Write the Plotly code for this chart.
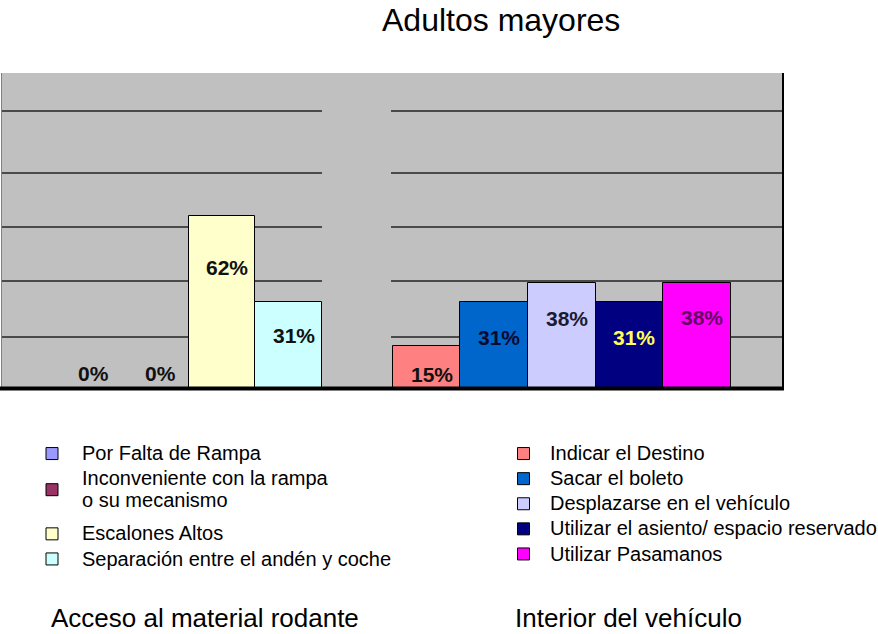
import plotly.graph_objects as go

W, H = 878, 634

title_text = "Adultos mayores"
group_titles = ["Acceso al material rodante", "Interior del vehículo"]

acc_cats = ["Por Falta de Rampa",
            "Inconveniente con la rampa<br>o su mecanismo",
            "Escalones Altos",
            "Separación entre el andén y coche"]
acc_vals = [0, 0, 62, 31]
acc_colors = ["#9999FF", "#993366", "#FFFFCC", "#CCFFFF"]
acc_label_colors = ["#111111", "#111111", "#111111", "#111111"]

int_cats = ["Indicar el Destino",
            "Sacar el boleto",
            "Desplazarse en el vehículo",
            "Utilizar el asiento/ espacio reservado",
            "Utilizar Pasamanos"]
int_vals = [15, 31, 38, 31, 38]
int_colors = ["#FF8080", "#0066CC", "#CCCCFF", "#000080", "#FF00FF"]
int_label_colors = ["#111111", "#0A0A30", "#1A1A33", "#FFFF55", "#660066"]

# style: vertical offset (px) of each value label from the bar top
acc_label_dy = [15, 15, -51, -33]
int_label_dy = [-28, -35, -36, -35, -35]

grid_levels = [18.5, 38.5, 58, 77.6, 100]

# layout geometry (px)
PLOT_TOP, PLOT_BOT = 73, 388
X1L, X1R = 1, 322
X2L, X2R = 391, 783
ydom = [(H - PLOT_BOT) / H, (H - PLOT_TOP) / H]

LABEL_FONT = dict(family="Liberation Sans, Arial, sans-serif", size=21)
TEXT_FONT = "Liberation Sans, Arial, sans-serif"


def legname(s):
    return "<br>".join(f"<span style='font-size:20px'>{p}</span>" for p in s.split("<br>"))


fig = go.Figure()

for i, (c, v, col) in enumerate(zip(acc_cats, acc_vals, acc_colors)):
    fig.add_trace(go.Bar(
        x=[c], y=[v], name=legname(c), width=1,
        marker=dict(color=col, line=dict(color="#000000", width=1)),
        xaxis="x", yaxis="y", legend="legend",
        legendgroup="a1" if i < 2 else "a2", hoverinfo="skip"))

for c, v, col in zip(int_cats, int_vals, int_colors):
    fig.add_trace(go.Bar(
        x=[c], y=[v], name=legname(c), width=1,
        marker=dict(color=col, line=dict(color="#000000", width=1)),
        xaxis="x2", yaxis="y2", legend="legend2", hoverinfo="skip"))

annotations = []
for c, v, lc, dy in zip(acc_cats, acc_vals, acc_label_colors, acc_label_dy):
    annotations.append(dict(x=c, y=v, xref="x", yref="y", text=f"<b>{v}%</b>",
                            showarrow=False, yshift=dy, xshift=5,
                            font=dict(color=lc, **LABEL_FONT)))
for c, v, lc, dy in zip(int_cats, int_vals, int_label_colors, int_label_dy):
    annotations.append(dict(x=c, y=v, xref="x2", yref="y2", text=f"<b>{v}%</b>",
                            showarrow=False, yshift=dy, xshift=5,
                            font=dict(color=lc, **LABEL_FONT)))

annotations.append(dict(x=501 / W, y=1 - 20 / H, xref="paper", yref="paper",
                        text=title_text, showarrow=False, xanchor="center", yanchor="middle",
                        font=dict(family=TEXT_FONT, size=32, color="#000000")))
annotations.append(dict(x=205 / W, y=1 - 618 / H, xref="paper", yref="paper",
                        text=group_titles[0], showarrow=False, xanchor="center", yanchor="middle",
                        font=dict(family=TEXT_FONT, size=26, color="#000000")))
annotations.append(dict(x=628 / W, y=1 - 618 / H, xref="paper", yref="paper",
                        text=group_titles[1], showarrow=False, xanchor="center", yanchor="middle",
                        font=dict(family=TEXT_FONT, size=26, color="#000000")))

shapes = [
    dict(type="rect", xref="paper", yref="paper", x0=X1L / W, x1=X2R / W,
         y0=ydom[0], y1=ydom[1], fillcolor="#C0C0C0", line=dict(width=0), layer="below"),
    dict(type="line", xref="paper", yref="paper", x0=1.5 / W, x1=1.5 / W,
         y0=ydom[0], y1=ydom[1], line=dict(color="#7F7F7F", width=1)),
    dict(type="line", xref="paper", yref="paper", x0=X2R / W, x1=X2R / W,
         y0=ydom[0], y1=ydom[1], line=dict(color="#000000", width=2)),
    dict(type="line", xref="paper", yref="paper", x0=0, x1=(X2R + 1) / W,
         y0=ydom[0] - 0.5 / H, y1=ydom[0] - 0.5 / H, line=dict(color="#000000", width=4)),
]

axis_common = dict(showticklabels=False, showline=False, zeroline=False, ticks="")
yaxis_common = dict(range=[0, 113.7], tickvals=grid_levels, showgrid=True,
                    gridcolor="#4A4A4A", gridwidth=2, domain=ydom, **axis_common)

legend_common = dict(font=dict(family=TEXT_FONT, size=17, color="#000000"),
                     bgcolor="rgba(0,0,0,0)", borderwidth=0, xanchor="left", yanchor="top",
                     itemclick=False, itemdoubleclick=False)

fig.update_layout(
    width=W, height=H,
    margin=dict(l=0, r=0, t=0, b=0, autoexpand=False),
    paper_bgcolor="#FFFFFF", plot_bgcolor="rgba(0,0,0,0)",
    barmode="overlay", bargap=0,
    showlegend=True,
    xaxis=dict(domain=[X1L / W, X1R / W], range=[-1.31, 3.5], type="category",
               showgrid=False, anchor="y", **axis_common),
    yaxis=dict(anchor="x", **yaxis_common),
    xaxis2=dict(domain=[X2L / W, X2R / W], range=[-0.525, 5.27], type="category",
                showgrid=False, anchor="y2", **axis_common),
    yaxis2=dict(anchor="x2", **yaxis_common),
    legend=dict(x=22 / W, y=1 - 436 / H, itemwidth=50, tracegroupgap=8,
                traceorder="grouped", **legend_common),
    legend2=dict(x=497 / W, y=1 - 436 / H, itemwidth=43, traceorder="normal",
                 **legend_common),
    annotations=annotations,
    shapes=shapes,
)

fig.write_html("out.html",
               config={"displayModeBar": False},
               post_script="document.body.style.margin='0px';document.body.style.overflow='hidden';")
